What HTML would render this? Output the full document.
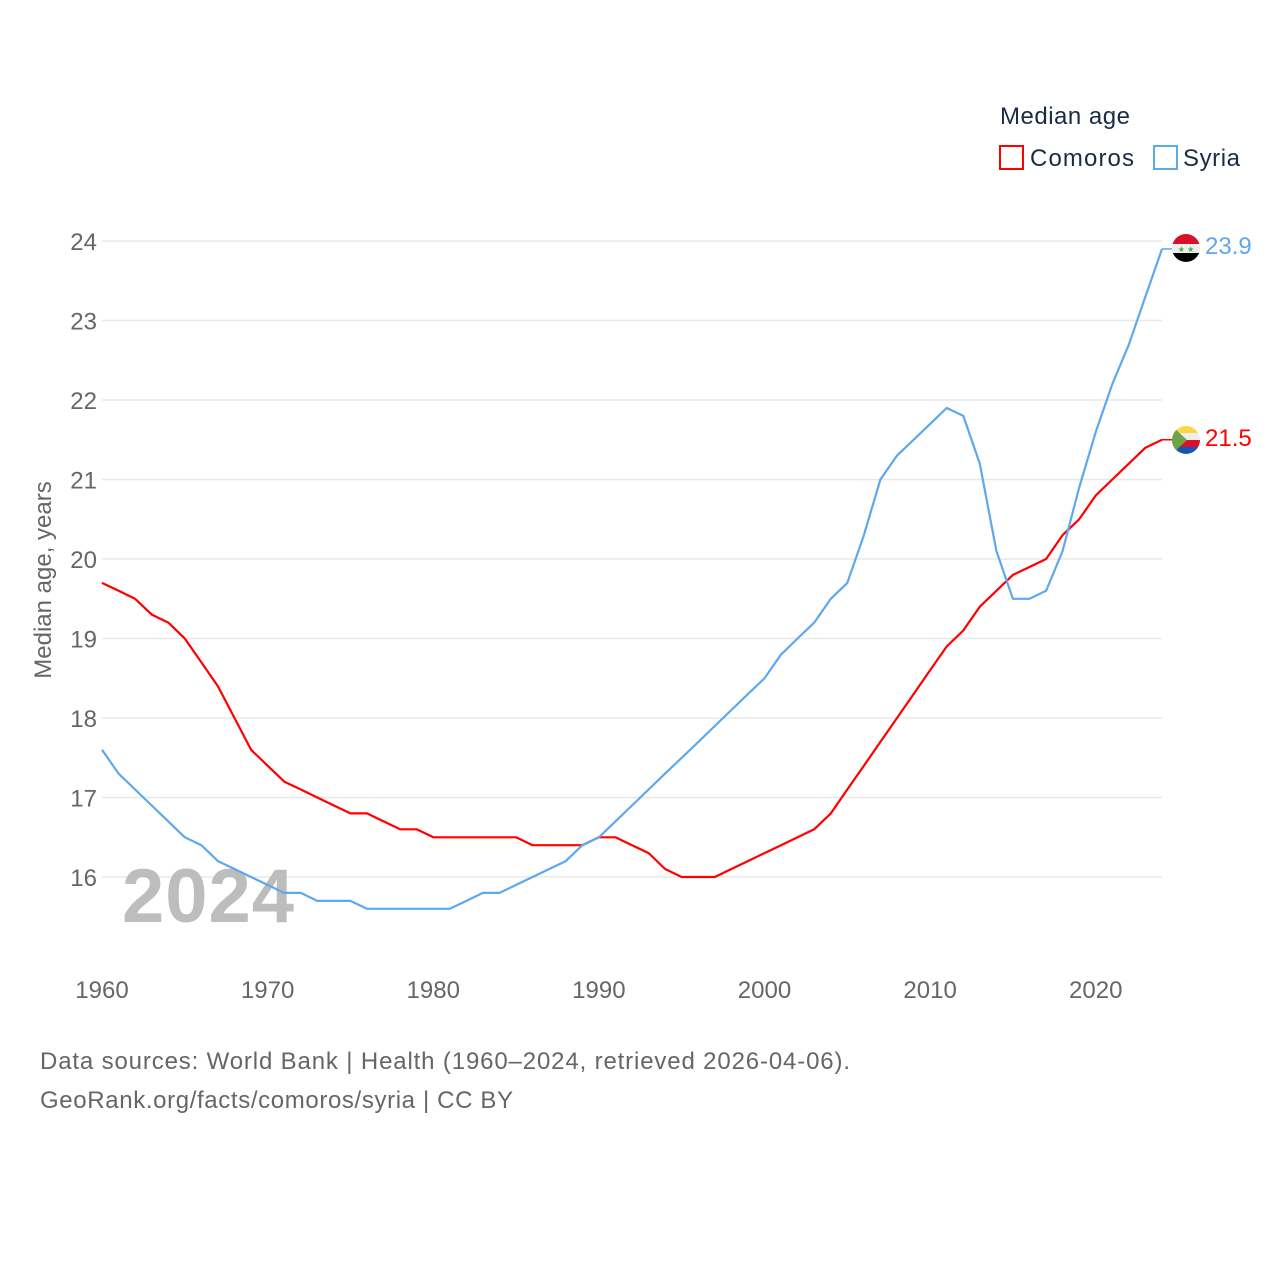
<!DOCTYPE html>
<html><head><meta charset="utf-8"><style>
body{margin:0;background:#fff;font-family:"Liberation Sans",sans-serif}
svg{display:block}
</style></head><body>
<svg id="chart" width="1280" height="1280" viewBox="0 0 1280 1280" xmlns="http://www.w3.org/2000/svg">
<g id="grid"></g>
<g id="yticks"></g>
<g id="xticks"></g>
<text x="122" y="922" font-size="76" font-weight="bold" fill="#bdbdbd" textLength="172">2024</text>
<g id="lines"></g>
<text transform="translate(51,580) rotate(-90)" text-anchor="middle" font-size="24" fill="#666">Median age, years</text>
<text x="1000" y="124" font-size="24" fill="#1a2b44" textLength="130">Median age</text>
<g><rect x="1000" y="146" width="23" height="23" fill="none" stroke="#ff0000" stroke-width="2"/><text x="1030" y="166" font-size="24" fill="#1a2b44" textLength="104">Comoros</text></g>
<g><rect x="1154" y="146" width="23" height="23" fill="none" stroke="#5ea8ee" stroke-width="2"/><text x="1183" y="166" font-size="24" fill="#1a2b44" textLength="57">Syria</text></g>
<g>
<clipPath id="cs"><circle cx="1186" cy="248" r="14"/></clipPath>
<g clip-path="url(#cs)"><rect x="1172" y="234" width="28" height="10" fill="#d8102a"/><rect x="1172" y="244" width="28" height="9" fill="#eee"/><rect x="1172" y="253" width="28" height="10" fill="#000"/></g>
<text x="1186" y="252" font-size="8" text-anchor="middle" fill="#4a4">★ ★</text></g>
<g>
<clipPath id="cc"><circle cx="1186" cy="440" r="14"/></clipPath>
<g clip-path="url(#cc)"><rect x="1172" y="426" width="28" height="7" fill="#fcd54a"/><rect x="1172" y="433" width="28" height="7" fill="#eee"/><rect x="1172" y="440" width="28" height="7" fill="#d8102a"/><rect x="1172" y="447" width="28" height="7" fill="#1456b0"/><polygon points="1172,426 1187,440 1172,454" fill="#6da544"/></g></g>
<text x="1205" y="254" font-size="24" fill="#5ea8ee">23.9</text>
<text x="1205" y="446" font-size="24" fill="#ff0000">21.5</text>
<text x="40" y="1069" font-size="24" fill="#666" textLength="810">Data sources: World Bank | Health (1960–2024, retrieved 2026-04-06).</text>
<text x="40" y="1108" font-size="24" fill="#666" textLength="473">GeoRank.org/facts/comoros/syria | CC BY</text>
</svg>
<script>
const years=[];for(let y=1960;y<=2024;y++)years.push(y);
const comoros=[19.7,19.6,19.5,19.3,19.2,19.0,18.7,18.4,18.0,17.6,17.4,17.2,17.1,17.0,16.9,16.8,16.8,16.7,16.6,16.6,16.5,16.5,16.5,16.5,16.5,16.5,16.4,16.4,16.4,16.4,16.5,16.5,16.4,16.3,16.1,16.0,16.0,16.0,16.1,16.2,16.3,16.4,16.5,16.6,16.8,17.1,17.4,17.7,18.0,18.3,18.6,18.9,19.1,19.4,19.6,19.8,19.9,20.0,20.3,20.5,20.8,21.0,21.2,21.4,21.5];
const syria=[17.6,17.3,17.1,16.9,16.7,16.5,16.4,16.2,16.1,16.0,15.9,15.8,15.8,15.7,15.7,15.7,15.6,15.6,15.6,15.6,15.6,15.6,15.7,15.8,15.8,15.9,16.0,16.1,16.2,16.4,16.5,16.7,16.9,17.1,17.3,17.5,17.7,17.9,18.1,18.3,18.5,18.8,19.0,19.2,19.5,19.7,20.3,21.0,21.3,21.5,21.7,21.9,21.8,21.2,20.1,19.5,19.5,19.6,20.1,20.9,21.6,22.2,22.7,23.3,23.9];
const yTicks=[16,17,18,19,20,21,22,23,24];
const xTicks=[1960,1970,1980,1990,2000,2010,2020];
const X=y=>102+(y-1960)*(1162-102)/64;
const Y=v=>877-(v-16)*79.5;
const NS="http://www.w3.org/2000/svg";
const mk=(t,a,p)=>{const e=document.createElementNS(NS,t);for(const k in a)e.setAttribute(k,a[k]);p.appendChild(e);return e;};
const grid=document.getElementById('grid'),yt=document.getElementById('yticks'),xt=document.getElementById('xticks'),lines=document.getElementById('lines');
yTicks.forEach(v=>{
 const l=mk('line',{x1:102,x2:1162,y1:Y(v),y2:Y(v),stroke:'#e8e8e8','stroke-width':1.5},grid);
 
 
 const t=mk('text',{x:97,y:Y(v)+9,'text-anchor':'end','font-size':24,fill:'#666'},yt);t.textContent=v;
 
 
});
xTicks.forEach(v=>{
 const t=mk('text',{x:X(v),y:998,'text-anchor':'middle','font-size':24,fill:'#666'},xt);t.textContent=v;
 
 
});
function line(data,color,name){
 const pts=data.map((v,i)=>X(years[i]).toFixed(1)+','+Y(v).toFixed(1));
 const p=mk('polyline',{points:pts.join(' '),fill:'none',stroke:color,'stroke-width':2.2,'stroke-linejoin':'round'},lines);
 
 
 const last=Y(data[data.length-1]);
 const c=mk('line',{x1:X(2024),x2:1172,y1:last,y2:last,stroke:color,'stroke-width':1.5},lines);
 
 
}
line(comoros,'#ff0000','comoros-line');
line(syria,'#5ea8ee','syria-line');
</script>
</body></html>
